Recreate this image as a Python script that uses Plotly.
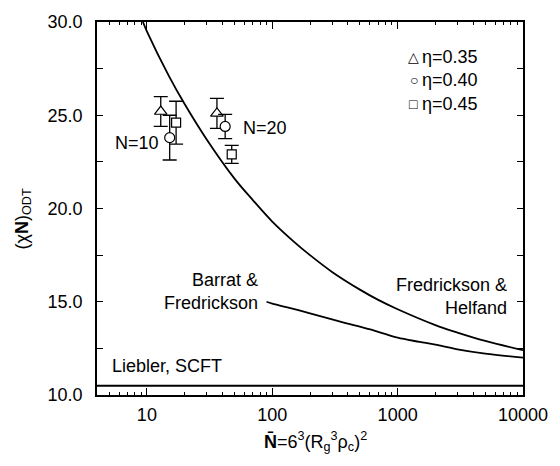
import plotly.graph_objects as go

# ---- data ----
# Fredrickson & Helfand curve
fh_nbar = [9.3, 10, 15, 20, 30, 50, 70, 100, 150, 200, 300, 500, 700, 1000, 2000, 3000, 5000, 10000]
fh_chin = [30.0, 29.5, 27.1, 25.6, 23.7, 21.6, 20.45, 19.3, 18.2, 17.5, 16.6, 15.65, 15.1, 14.6, 13.75, 13.35, 12.9, 12.4]

# Barrat & Fredrickson curve
bf_nbar = [90, 100, 150, 200, 300, 500, 700, 1000, 1500, 2000, 3000, 5000, 10000]
bf_chin = [15.0, 14.9, 14.61, 14.38, 14.05, 13.66, 13.39, 13.07, 12.85, 12.7, 12.45, 12.22, 12.0]

# Leibler SCFT mean-field value
liebler_nbar = [4, 10000]
liebler_chin = [10.495, 10.495]

# simulation points (N=10 and N=20 for each packing fraction)
eta_labels = ["η=0.35", "η=0.40", "η=0.45"]
eta_symbols = ["triangle-up", "circle", "square"]
eta_nbar = [[12.9, 36.2], [15.2, 42.1], [17.1, 47.5]]
eta_chin = [[25.2, 25.1], [23.8, 24.4], [24.6, 22.9]]
eta_err = [[0.8, 0.8], [1.2, 0.65], [1.15, 0.48]]

FONT = "Liberation Sans, Arial, Helvetica, sans-serif"

# plot-area pixel geometry
L, R, T, B = 97, 529, 17, 395
W, H = R - L, B - T


def px(x):
    return (x - L) / W


def py(y):
    return (B - y) / H


fig = go.Figure()

line_style = dict(color="black", width=1.8)
fig.add_trace(go.Scatter(x=fh_nbar, y=fh_chin, mode="lines", line=dict(shape="spline", **line_style),
                         showlegend=False, hoverinfo="skip"))
fig.add_trace(go.Scatter(x=bf_nbar, y=bf_chin, mode="lines", line=dict(shape="spline", **line_style),
                         showlegend=False, hoverinfo="skip"))
fig.add_trace(go.Scatter(x=liebler_nbar, y=liebler_chin, mode="lines", line=line_style,
                         showlegend=False, hoverinfo="skip"))

sizes = [11, 10, 9]
for lab, sym, xs, ys, es, sz in zip(eta_labels, eta_symbols, eta_nbar, eta_chin, eta_err, sizes):
    fig.add_trace(go.Scatter(
        x=xs, y=ys, mode="markers", name=lab,
        marker=dict(symbol=sym, size=sz, color="white", line=dict(color="black", width=1.2)),
        error_y=dict(type="data", array=es, visible=True, color="black", thickness=1.3, width=7),
        showlegend=False,
    ))

minor_x = [m * 10 ** k for k in range(0, 4) for m in range(2, 10) if 4 <= m * 10 ** k <= 10000]

fig.update_xaxes(
    type="log", range=[0.60206, 4.0],
    tickvals=[10, 100, 1000, 10000], ticktext=["10", "100", "1000", "10000"],
    ticks="inside", ticklen=7, tickwidth=1.2, tickcolor="black",
    minor=dict(tickvals=minor_x, ticks="inside", ticklen=3, tickwidth=1, tickcolor="black"),
    showline=True, linecolor="black", linewidth=1.5, mirror="ticks",
    showgrid=False, zeroline=False,
    ticklabelstandoff=3,
    tickfont=dict(family=FONT, size=18, color="black"),
)
fig.update_yaxes(
    range=[10, 30],
    tickvals=[10, 15, 20, 25, 30], ticktext=["10.0", "15.0", "20.0", "25.0", "30.0"],
    ticks="inside", ticklen=6, tickwidth=1.2, tickcolor="black",
    minor=dict(tickvals=[12.5, 17.5, 22.5, 27.5], ticks="inside", ticklen=6, tickwidth=1, tickcolor="black"),
    showline=True, linecolor="black", linewidth=1.5, mirror="ticks",
    showgrid=False, zeroline=False,
    ticklabelstandoff=9,
    tickfont=dict(family=FONT, size=18, color="black"),
)

ann = []


def text(x, y, s, xanchor="center", size=18, align="center", **kw):
    ann.append(dict(x=px(x), y=py(y), xref="paper", yref="paper", text=s, showarrow=False,
                    xanchor=xanchor, yanchor="middle", align=align,
                    font=dict(family=FONT, size=size, color="black"), **kw))


text(137.5, 140, "N=10")
text(267.5, 124, "N=20")
text(262, 290, "Barrat &amp;<br>Fredrickson", xanchor="right", align="right")
text(515, 295, "Fredrickson &amp;<br>Helfand", xanchor="right", align="right")
text(110, 366, "Liebler, SCFT", xanchor="left")

legend_syms = ["△", "○", "□"]
for i, (sym, lab) in enumerate(zip(legend_syms, eta_labels)):
    yy = 52 + 24 * i
    text(418, yy, sym, size=14)
    text(425, yy, lab, xanchor="left")

# axis titles
text(319, 442, "<b>N\u0304</b>=6<sup>3</sup>(R<sub>g</sub><sup>3</sup>ρ<sub>c</sub>)<sup>2</sup>")
ann.append(dict(x=px(22), y=py(217), xref="paper", yref="paper",
                text="(χ<b>N</b>)<sub>ODT</sub>", showarrow=False, textangle=-90,
                xanchor="center", yanchor="middle",
                font=dict(family=FONT, size=18, color="black")))

fig.update_layout(
    width=560, height=466,
    margin=dict(l=L, r=560 - R, t=T, b=466 - B),
    paper_bgcolor="white", plot_bgcolor="white",
    annotations=ann,
    showlegend=False,
)

fig.write_html("out.html")
